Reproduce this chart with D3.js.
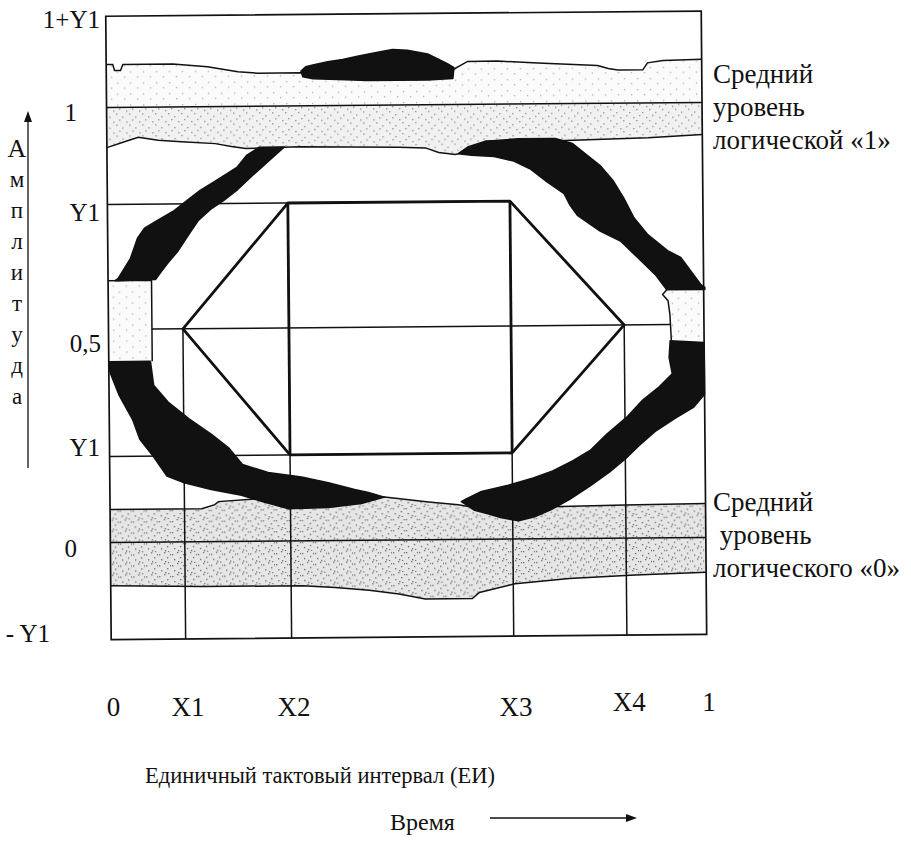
<!DOCTYPE html>
<html>
<head>
<meta charset="utf-8">
<script src="https://cdn.jsdelivr.net/npm/d3@7"></script>
<style>
  body { margin: 0; background: #fff; }
</style>
</head>
<body>
<div id="eye"></div>
<script>
// ---- data (time in unit intervals, amplitude in relative units) ----
var xTicks = [0, 0.125, 0.303, 0.676, 0.866, 1];
var xTickLabels = ["0", "X1", "X2", "X3", "X4", "1"];

var yLevels = [1.21, 1, 0.777, 0.49, 0.198, 0, -0.223];
var yLevelLabels = ["1+Y1", "1", "Y1", "0,5", "Y1", "0", "- Y1"];

var axisWord = ["А", "м", "п", "л", "и", "т", "у", "д", "а"];

// noise band around logical "1"
var band1Top = [[0,1.099],[0.011,1.099],[0.014,1.085],[0.024,1.085],[0.028,1.099],[0.112,1.099],
  [0.170,1.092],[0.221,1.080],[0.254,1.076],[0.327,1.076],[0.456,1.067],[0.582,1.080],[0.607,1.099],
  [0.657,1.099],[0.725,1.094],[0.825,1.087],[0.843,1.080],[0.859,1.076],[0.901,1.076],[0.909,1.092],
  [0.935,1.097],[1,1.099]];
var band1Bottom = [[0,0.908],[0.036,0.924],[0.053,0.931],[0.086,0.924],[0.125,0.920],[0.182,0.915],
  [0.209,0.908],[0.233,0.903],[0.322,0.906],[0.490,0.903],[0.535,0.901],[0.557,0.890],[0.585,0.885],
  [0.607,0.892],[0.636,0.915],[0.758,0.915],[0.909,0.920],[1,0.926]];

// noise band around logical "0"
var band0Top = [[0,0.076],[0.154,0.076],[0.176,0.085],[0.182,0.092],[0.243,0.097],[0.322,0.099],
  [0.422,0.103],[0.461,0.099],[0.535,0.087],[0.585,0.080],[0.602,0.076],[0.725,0.074],[0.758,0.074],
  [0.864,0.076],[1,0.078]];
var band0Bottom = [[0,-0.099],[0.154,-0.103],[0.322,-0.103],[0.377,-0.108],[0.434,-0.115],[0.484,-0.124],
  [0.528,-0.136],[0.607,-0.136],[0.619,-0.122],[0.679,-0.103],[0.770,-0.092],[0.881,-0.085],[1,-0.080]];

// dark trace bundles
var blobTop = [[0.327,1.080],[0.335,1.090],[0.347,1.094],[0.372,1.101],[0.397,1.106],[0.422,1.113],
  [0.456,1.122],[0.481,1.128],[0.506,1.126],[0.540,1.117],[0.557,1.105],[0.573,1.094],[0.584,1.085],
  [0.582,1.060],[0.540,1.057],[0.490,1.057],[0.439,1.057],[0.389,1.060],[0.347,1.062],[0.330,1.067]];
var blobUpLeft = [[0.256,0.906],[0.298,0.906],[0.273,0.876],[0.245,0.842],[0.219,0.809],[0.195,0.784],
  [0.173,0.764],[0.152,0.738],[0.135,0.704],[0.118,0.669],[0.101,0.642],[0.088,0.619],[0.080,0.604],
  [0.012,0.602],[0.017,0.607],[0.038,0.653],[0.050,0.699],[0.062,0.722],[0.083,0.739],[0.112,0.762],
  [0.134,0.785],[0.156,0.808],[0.184,0.831],[0.218,0.860],[0.235,0.888]];
var blobUpRight = [[0.590,0.887],[0.607,0.903],[0.636,0.915],[0.691,0.920],[0.753,0.920],[0.782,0.908],
  [0.807,0.880],[0.828,0.857],[0.850,0.821],[0.867,0.782],[0.884,0.736],[0.907,0.697],[0.940,0.660],
  [0.962,0.644],[0.978,0.614],[0.995,0.582],[1.002,0.575],[1.002,0.570],[0.938,0.570],[0.919,0.605],
  [0.890,0.644],[0.861,0.683],[0.827,0.706],[0.789,0.743],[0.777,0.766],[0.767,0.793],[0.738,0.821],
  [0.710,0.851],[0.683,0.869],[0.650,0.880],[0.612,0.883]];
var blobLowLeft = [[0,0.416],[0.070,0.416],[0.075,0.361],[0.099,0.322],[0.134,0.283],[0.172,0.246],
  [0.201,0.214],[0.223,0.177],[0.266,0.158],[0.322,0.147],[0.367,0.133],[0.411,0.117],[0.434,0.110],
  [0.461,0.099],[0.422,0.085],[0.367,0.076],[0.300,0.074],[0.254,0.092],[0.221,0.106],[0.170,0.120],
  [0.125,0.136],[0.096,0.152],[0.073,0.198],[0.051,0.237],[0.039,0.283],[0.017,0.338],[0.002,0.391]];
var blobLowRight = [[0.943,0.453],[1,0.448],[1,0.329],[0.981,0.299],[0.950,0.274],[0.916,0.244],
  [0.889,0.212],[0.866,0.182],[0.839,0.152],[0.806,0.120],[0.772,0.090],[0.741,0.067],[0.713,0.051],
  [0.686,0.042],[0.657,0.049],[0.636,0.058],[0.612,0.067],[0.590,0.087],[0.599,0.094],[0.624,0.110],
  [0.669,0.124],[0.711,0.140],[0.744,0.156],[0.778,0.179],[0.807,0.202],[0.835,0.239],[0.869,0.278],
  [0.896,0.317],[0.924,0.347],[0.946,0.377],[0.941,0.414]];

// crossing zones near 0.5 at the interval edges
var zoneLeft = [[0,0.602],[0.073,0.602],[0.073,0.416],[0,0.416]];
var zoneRight = [[0.938,0.570],[0.931,0.559],[0.940,0.545],[0.943,0.513],[0.945,0.453],[1,0.453],[1,0.570]];

// ---- svg ----
var W = 911, H = 852;
var serif = "'Liberation Serif', 'DejaVu Serif', serif";
var svg = d3.select("#eye").append("svg")
    .attr("width", W).attr("height", H)
    .attr("font-family", serif);

var x = d3.scaleLinear().domain([0, 1]).range([108.5, 704]);
var y = d3.scaleLinear().domain([0, 1]).range([540, 105]);

var line = d3.line().x(d => x(d[0])).y(d => y(d[1]));
var outline = d3.line().x(d => x(d[0])).y(d => y(d[1])).curve(d3.curveLinearClosed);

// stipple patterns for the noise bands
var defs = svg.append("defs");
function stipple(id, bg, dot, pts) {
  var p = defs.append("pattern").attr("id", id)
      .attr("patternUnits", "userSpaceOnUse").attr("width", 13).attr("height", 11);
  p.append("rect").attr("width", 13).attr("height", 11).attr("fill", bg);
  pts.forEach(q => p.append("rect").attr("x", q[0]).attr("y", q[1])
      .attr("width", 1.3).attr("height", 1.3).attr("fill", dot));
}
stipple("sparse", "#fbfbfb", "#b0b0b0", [[2,3],[9,8]]);
stipple("light", "#f1f1f1", "#8a8a8a", [[1,1],[7,4],[11,9],[4,7]]);
stipple("dense", "#e6e6e6", "#6a6a6a", [[1,2],[6,0],[9,5],[3,7],[12,2],[7,9],[10,10]]);

// slight tilt of the scanned page
var g = svg.append("g").attr("transform", "rotate(-0.5,405,330)");

// bands
g.append("path").attr("d", outline(band1Top.concat([[1,1],[0,1]]))).attr("fill", "url(#sparse)");
g.append("path").attr("d", outline([[0,1],[1,1]].concat(band1Bottom.slice().reverse()))).attr("fill", "url(#light)");
g.append("path").attr("d", outline(band0Top.concat([[1,0],[0,0]]))).attr("fill", "url(#dense)");
g.append("path").attr("d", outline([[0,0],[1,0]].concat(band0Bottom.slice().reverse()))).attr("fill", "url(#dense)");

g.append("path").attr("d", outline(zoneLeft)).attr("fill", "url(#sparse)");
g.append("path").attr("d", outline(zoneRight)).attr("fill", "url(#sparse)");

[band1Top, band1Bottom, band0Top, band0Bottom].forEach(b => {
  g.append("path").attr("d", line(b)).attr("fill", "none")
      .attr("stroke", "#111").attr("stroke-width", 1.5);
});

// grid lines
var grid = [
  [[0,1],[1,1]],
  [[0,0],[1,0]],
  [[0,yLevels[2]],[xTicks[3],yLevels[2]]],
  [[0,yLevels[4]],[xTicks[3],yLevels[4]]],
  [[0.073,yLevels[3]],[0.943,yLevels[3]]],
  [[xTicks[1],yLevels[3]],[xTicks[1],yLevels[6]]],
  [[xTicks[2],yLevels[2]],[xTicks[2],yLevels[6]]],
  [[xTicks[3],yLevels[2]],[xTicks[3],yLevels[6]]],
  [[xTicks[4],yLevels[3]],[xTicks[4],yLevels[6]]],
  [[0,0.602],[0.073,0.602],[0.073,0.416]],
  [[0.938,0.570],[0.931,0.559],[0.940,0.545],[0.943,0.513],[0.945,0.453]]
];
grid.forEach(s => {
  g.append("path").attr("d", line(s)).attr("fill", "none")
      .attr("stroke", "#111").attr("stroke-width", 1.5);
});

// dark bundles
[blobTop, blobUpLeft, blobUpRight, blobLowLeft, blobLowRight].forEach(b => {
  g.append("path").attr("d", outline(b))
      .attr("fill", "#111").attr("stroke", "#111").attr("stroke-width", 1.5)
      .attr("stroke-linejoin", "round");
});

// eye mask (hexagon)
var hex = [[xTicks[1],yLevels[3]],[xTicks[2],yLevels[2]],[xTicks[3],yLevels[2]],
           [xTicks[4],yLevels[3]],[xTicks[3],yLevels[4]],[xTicks[2],yLevels[4]]];
g.append("path").attr("d", outline(hex)).attr("fill", "none")
    .attr("stroke", "#111").attr("stroke-width", 2.8).attr("stroke-linejoin", "round");
[[[xTicks[2],yLevels[2]],[xTicks[2],yLevels[4]]],[[xTicks[3],yLevels[2]],[xTicks[3],yLevels[4]]]].forEach(s => {
  g.append("path").attr("d", line(s)).attr("stroke", "#111").attr("stroke-width", 2.8);
});

// frame
g.append("rect")
    .attr("x", x(0)).attr("y", y(yLevels[0]))
    .attr("width", x(1) - x(0)).attr("height", y(yLevels[6]) - y(yLevels[0]))
    .attr("fill", "none").attr("stroke", "#111").attr("stroke-width", 1.7);

// text helper
function label(sel) {
  return sel.style("font-family", serif).attr("fill", "#111");
}

// level labels on the left
var levelShift = [6, 7, 10, 16, -7, 8, -4];
var levelX = [100, 77, 100, 101, 100, 77, 50];
label(svg.selectAll(".lvl").data(yLevelLabels).enter().append("text"))
    .attr("class", "lvl")
    .attr("x", (d, i) => levelX[i])
    .attr("y", (d, i) => y(yLevels[i]) + levelShift[i])
    .attr("dy", "0.35em")
    .attr("text-anchor", "end")
    .style("font-size", "25px")
    .text(d => d);

// time labels
label(svg.selectAll(".tick").data(xTickLabels).enter().append("text"))
    .attr("class", "tick")
    .attr("x", (d, i) => x(xTicks[i]) + 5)
    .attr("y", (d, i) => i >= 4 ? 702 : 707)
    .attr("dy", "0.35em")
    .attr("text-anchor", "middle")
    .style("font-size", "27px")
    .text(d => d);

// vertical amplitude axis with arrow
svg.append("line").attr("x1", 28).attr("x2", 28).attr("y1", 118).attr("y2", 468)
    .attr("stroke", "#111").attr("stroke-width", 1.3);
svg.append("path").attr("d", "M28,111 L24,122 L32,122 Z").attr("fill", "#111");
label(svg.selectAll(".ax").data(axisWord).enter().append("text"))
    .attr("class", "ax")
    .attr("x", 17)
    .attr("y", (d, i) => 148 + i * 31)
    .attr("dy", "0.35em")
    .attr("text-anchor", "middle")
    .style("font-size", (d, i) => i === 0 ? "26px" : "23px")
    .text(d => d);

// right annotations
var note1 = ["Средний", "уровень", "логической «1»"];
var note0 = ["Средний", " уровень", "логического «0»"];
label(svg.selectAll(".n1").data(note1).enter().append("text"))
    .attr("x", 713).attr("y", (d, i) => 74 + i * 33).attr("dy", "0.35em")
    .style("font-size", "27px").text(d => d);
label(svg.selectAll(".n0").data(note0).enter().append("text"))
    .attr("x", 713).attr("y", (d, i) => 502 + i * 33).attr("dy", "0.35em")
    .style("font-size", "27px").style("white-space", "pre").text(d => d);

// bottom captions
label(svg.append("text")).attr("x", 145).attr("y", 775).attr("dy", "0.35em")
    .style("font-size", "22.5px").text("Единичный тактовый интервал (ЕИ)");
label(svg.append("text")).attr("x", 390).attr("y", 822).attr("dy", "0.35em")
    .style("font-size", "24px").text("Время");
svg.append("line").attr("x1", 490).attr("x2", 628).attr("y1", 818).attr("y2", 818)
    .attr("stroke", "#111").attr("stroke-width", 1.5);
svg.append("path").attr("d", "M637,818 L626,814 L626,822 Z").attr("fill", "#111");
</script>
</body>
</html>
